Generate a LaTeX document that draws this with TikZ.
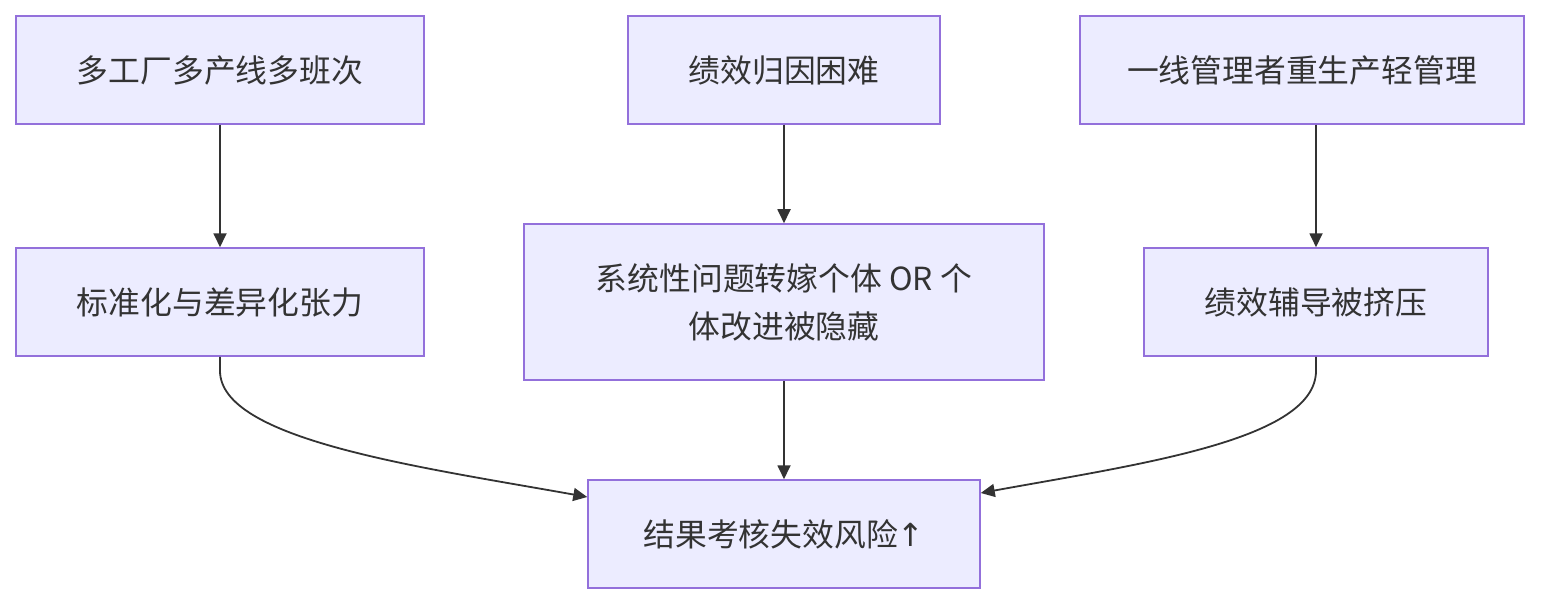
\documentclass[tikz,border=0pt]{standalone}
\usepackage{fontspec}
\setmainfont{Noto Sans CJK SC}
\newfontfamily\arrowfont{DejaVu Sans}
\usetikzlibrary{arrows.meta}
\definecolor{boxfill}{HTML}{ECECFF}
\definecolor{boxline}{HTML}{9370DB}
\definecolor{txt}{HTML}{333333}
\begin{document}
\begin{tikzpicture}[x=1pt,y=-1pt,
  box/.style={draw=boxline,fill=boxfill,line width=1.5pt,text=txt,inner sep=0pt,
    font=\fontsize{31.8}{48}\selectfont,align=center},
  conn/.style={draw=txt,line width=1.8pt,-{Triangle[length=14pt,width=13pt]}}]
\useasboundingbox (0,0) rectangle (1568,604);
\node[box,minimum width=408pt,minimum height=108pt] (a) at (220,70) {多工厂多产线多班次};
\node[box,minimum width=312pt,minimum height=108pt] (b) at (784,70) {绩效归因困难};
\node[box,minimum width=444pt,minimum height=108pt] (c) at (1302,70) {一线管理者重生产轻管理};
\node[box,minimum width=408pt,minimum height=108pt] (d) at (220,302) {标准化与差异化张力};
\node[box,minimum width=520pt,minimum height=156pt] (e) at (784,302) {系统性问题转嫁个体 OR 个\\体改进被隐藏};
\node[box,minimum width=344pt,minimum height=108pt] (f) at (1316,302) {绩效辅导被挤压};
\node[box,minimum width=392pt,minimum height=108pt] (g) at (784,534) {结果考核失效风险{\arrowfont ↑}};
\draw[conn] (a.south) -- (d.north);
\draw[conn] (b.south) -- (e.north);
\draw[conn] (c.south -| f.north) -- (f.north);
\draw[conn] (e.south) -- (g.north);
\draw[conn] (d.south) -- ++(0,14) .. controls (220,440) and (420,467) .. ([yshift=37pt]g.west);
\draw[conn] (f.south) -- ++(0,14) .. controls (1316,440) and (1140,464) .. ([yshift=41pt]g.east);
\end{tikzpicture}
\end{document}
